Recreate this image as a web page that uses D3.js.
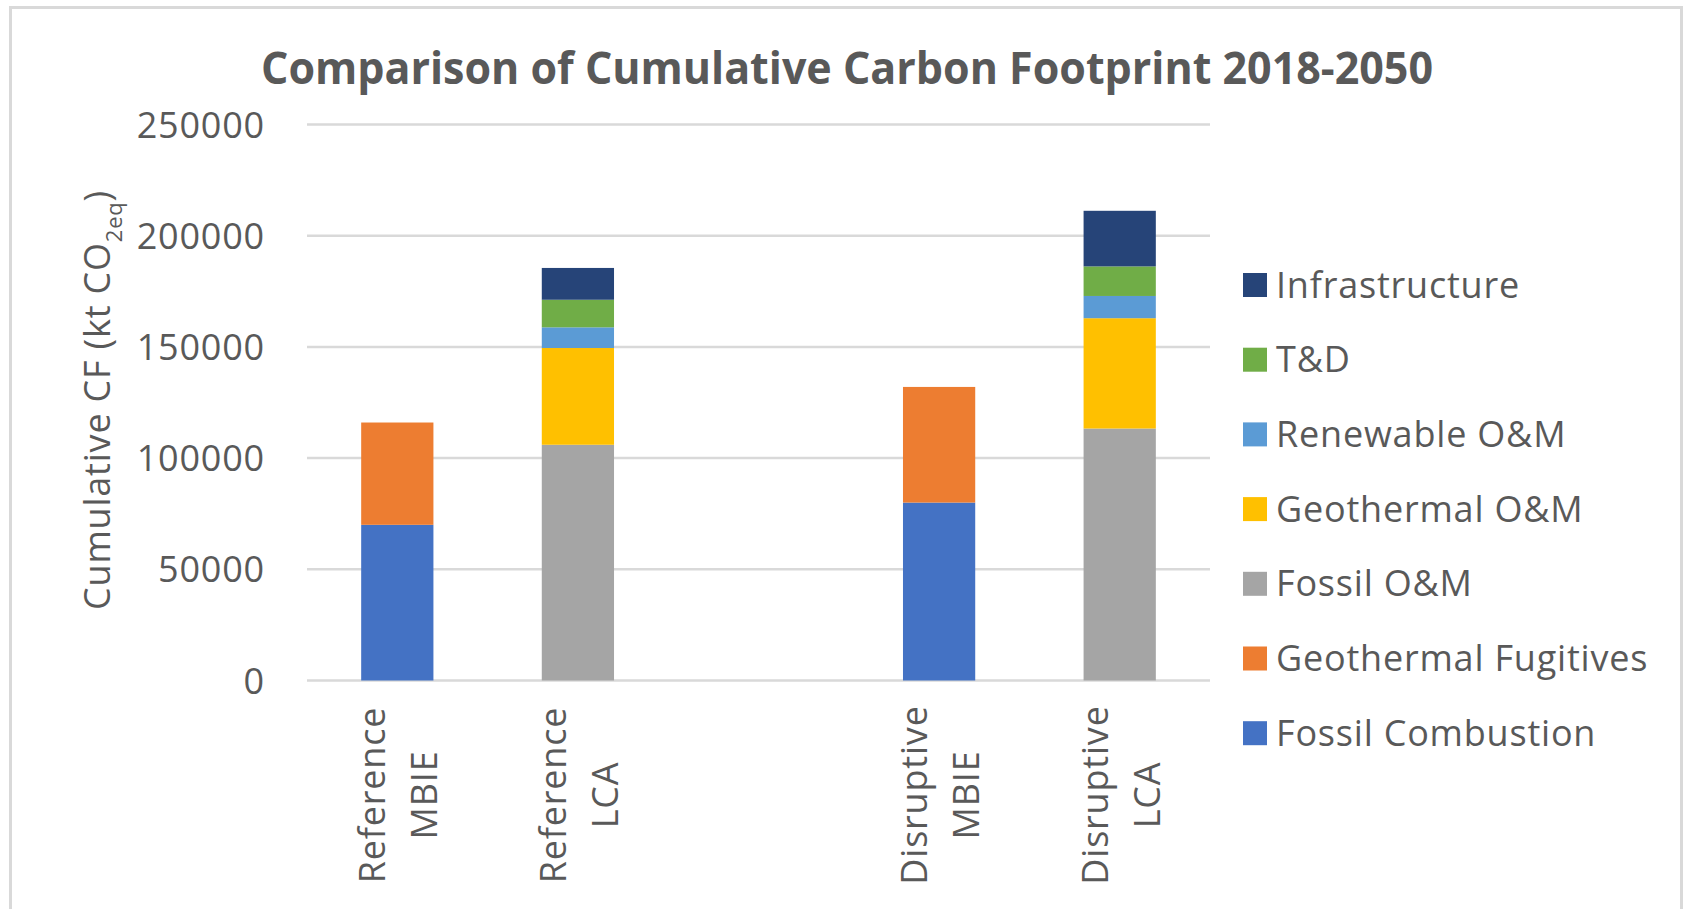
<!DOCTYPE html>
<html>
<head>
<meta charset="utf-8">
<script src="https://cdn.jsdelivr.net/npm/d3@7"></script>
<style>
  body { margin: 0; background: #fff; }
  text { font-family: "Open Sans", "DejaVu Sans", sans-serif; fill: #595959; letter-spacing: 0.8px; }
  text.title { letter-spacing: 0; }
</style>
</head>
<body>
<div id="chart"></div>
<script>
var width = 1683;
var height = 909;

// categories (the empty one is the gap between the two scenarios)
var categories = ["Reference|MBIE", "Reference|LCA", "", "Disruptive|MBIE", "Disruptive|LCA"];

// series, bottom of the stack first
var seriesNames = ["Fossil Combustion", "Geothermal Fugitives", "Fossil O&M", "Geothermal O&M",
                   "Renewable O&M", "T&D", "Infrastructure"];
var seriesColors = ["#4472C4", "#ED7D31", "#A5A5A5", "#FFC000", "#5B9BD5", "#70AD47", "#264478"];

var fossilCombustion    = [70000, 0, 0, 80000, 0];
var geothermalFugitives = [46000, 0, 0, 52000, 0];
var fossilOM            = [0, 106000, 0, 0, 113300];
var geothermalOM        = [0, 43500, 0, 0, 49600];
var renewableOM         = [0, 9300, 0, 0, 10000];
var tAndD               = [0, 12400, 0, 0, 13300];
var infrastructure      = [0, 14300, 0, 0, 25000];

var yTicks = [0, 50000, 100000, 150000, 200000, 250000];

var seriesValues = [fossilCombustion, geothermalFugitives, fossilOM, geothermalOM,
                    renewableOM, tAndD, infrastructure];

var rows = categories.map(function(c, i) {
    var r = { cat: c };
    seriesNames.forEach(function(s, j) { r[s] = seriesValues[j][i]; });
    return r;
});

var svg = d3.select("#chart").append("svg")
    .attr("width", width)
    .attr("height", height);

// chart border
svg.append("rect")
    .attr("x", 10.5).attr("y", 7.5)
    .attr("width", 1671).attr("height", 1000)
    .attr("fill", "#fff")
    .attr("stroke", "#d9d9d9")
    .attr("stroke-width", 3);

var xScale = d3.scaleBand()
    .domain(categories)
    .range([307, 1210])
    .paddingInner(0.6)
    .paddingOuter(0.3);

var yScale = d3.scaleLinear()
    .domain([0, 250000])
    .range([680.5, 124.5]);

// gridlines
svg.append("g")
    .selectAll("line")
    .data(yTicks)
    .enter()
    .append("line")
    .attr("x1", 307)
    .attr("x2", 1210)
    .attr("y1", function(d) { return yScale(d); })
    .attr("y2", function(d) { return yScale(d); })
    .attr("stroke", "#d9d9d9")
    .attr("stroke-width", 2.5);

// y axis labels
var yAxis = svg.append("g")
    .attr("transform", "translate(265,0)")
    .call(d3.axisLeft(yScale).tickValues(yTicks).tickFormat(d3.format("d")).tickSize(0).tickPadding(0));
yAxis.select(".domain").remove();
yAxis.selectAll("text")
    .attr("font-size", 36)
    .attr("font-family", null)
    .attr("fill", "#595959")
    .attr("dy", "0.35em");

// stacked bars
var stack = d3.stack().keys(seriesNames);
var layers = stack(rows);

svg.append("g")
    .selectAll("g")
    .data(layers)
    .enter()
    .append("g")
    .attr("fill", function(d, i) { return seriesColors[i]; })
    .selectAll("rect")
    .data(function(d) { return d; })
    .enter()
    .append("rect")
    .filter(function(d) { return d[1] - d[0] > 0; })
    .attr("x", function(d) { return xScale(d.data.cat); })
    .attr("width", xScale.bandwidth())
    .attr("y", function(d) { return yScale(d[1]); })
    .attr("height", function(d) { return yScale(d[0]) - yScale(d[1]); });

// category labels, two lines rotated
var catLabels = svg.append("g")
    .selectAll("text")
    .data(categories.filter(function(c) { return c !== ""; }))
    .enter()
    .append("text")
    .attr("transform", function(d) {
        return "translate(" + (xScale(d) + xScale.bandwidth() / 2) + ",795) rotate(-90)";
    })
    .attr("text-anchor", "middle")
    .attr("font-size", 36);
catLabels.append("tspan")
    .attr("x", 0).attr("y", -12)
    .text(function(d) { return d.split("|")[0]; });
catLabels.append("tspan")
    .attr("x", 0).attr("y", 40)
    .text(function(d) { return d.split("|")[1]; });

// y axis title
var yTitle = svg.append("text")
    .attr("transform", "translate(110,400) rotate(-90)")
    .attr("text-anchor", "middle")
    .attr("font-size", 36);
yTitle.append("tspan").text("Cumulative CF (kt CO");
yTitle.append("tspan").attr("font-size", 22).attr("dy", 12).text("2eq");
yTitle.append("tspan").attr("dy", -12).text(")");

// title
svg.append("text")
    .attr("class", "title")
    .attr("x", 847)
    .attr("y", 83.5)
    .attr("text-anchor", "middle")
    .attr("font-family", "Liberation Sans, Arial, sans-serif")
    .attr("font-weight", "bold")
    .attr("font-size", 44)
    .attr("textLength", 1172)
    .attr("lengthAdjust", "spacingAndGlyphs")
    .text("Comparison of Cumulative Carbon Footprint 2018-2050");

// legend, top of the stack first
var legendOrder = seriesNames.slice().reverse();
var legend = svg.append("g")
    .selectAll("g")
    .data(legendOrder)
    .enter()
    .append("g")
    .attr("transform", function(d, i) { return "translate(1243," + (285 + i * 74.7) + ")"; });

legend.append("rect")
    .attr("x", 0).attr("y", -12)
    .attr("width", 24).attr("height", 24)
    .attr("fill", function(d) { return seriesColors[seriesNames.indexOf(d)]; });

legend.append("text")
    .attr("x", 33)
    .attr("dy", "0.35em")
    .attr("font-size", 36)
    .text(function(d) { return d; });
</script>
</body>
</html>
